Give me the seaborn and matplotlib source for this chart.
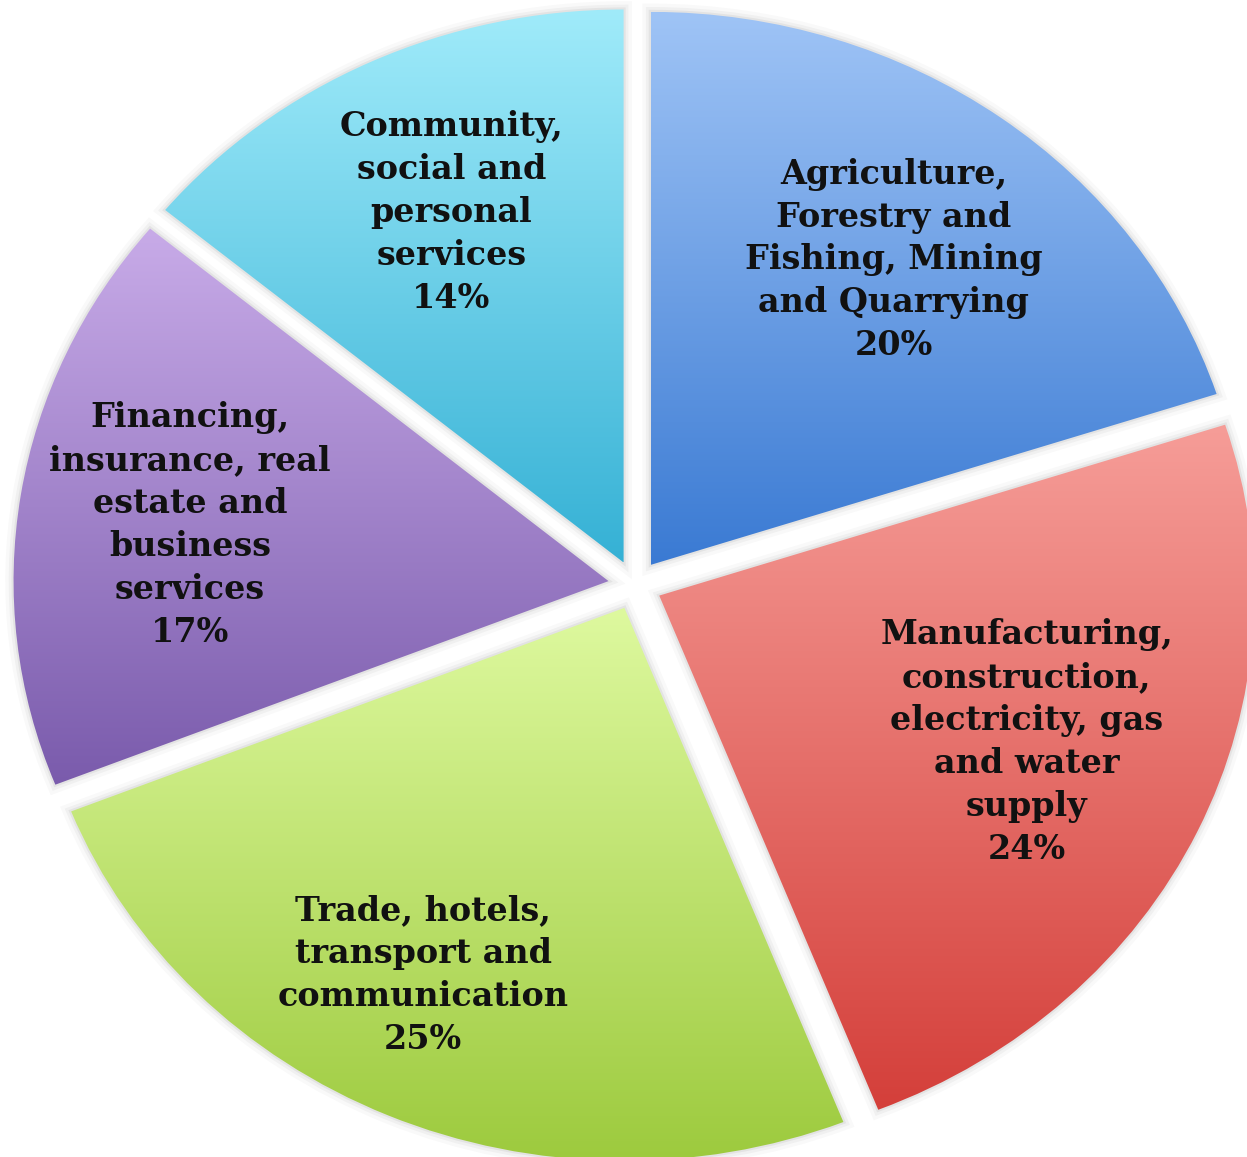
import numpy as np
import matplotlib
matplotlib.use("Agg")
import matplotlib.pyplot as plt
import seaborn as sns
from matplotlib.patches import Wedge

# Sector shares of output
sectors = [
    "Agriculture,\nForestry and\nFishing, Mining\nand Quarrying",
    "Manufacturing,\nconstruction,\nelectricity, gas\nand water\nsupply",
    "Trade, hotels,\ntransport and\ncommunication",
    "Financing,\ninsurance, real\nestate and\nbusiness\nservices",
    "Community,\nsocial and\npersonal\nservices",
]
shares = [20, 24, 25, 17, 14]

# Vertical gradient of each slice: light top, saturated bottom
top_colors = ["#9fc4f6", "#f69d98", "#def99f", "#c8abe8", "#a0ebfa"]
bottom_colors = ["#3a7ad3", "#d43f3a", "#9bc93b", "#7a5bac", "#35b1d5"]

# Label placement inside each slice (radial distance, angular nudge in degrees)
label_dist = [0.686, 0.672, 0.745, 0.711, 0.696]
label_nudge = [-0.5, 2.0, -3.6, 0.8, -0.6]

sns.set_theme(style="white")
plt.rcParams["font.family"] = ["DejaVu Serif"]

fig = plt.figure(figsize=(12.47, 11.57), dpi=100)
ax = fig.add_axes([0, 0, 1, 1])

wedges, _ = ax.pie(
    shares,
    startangle=90,
    counterclock=False,
    explode=[0.045] * len(shares),
    radius=1.0,
    colors=top_colors,
    wedgeprops=dict(linewidth=0),
)

grad = np.linspace(0, 1, 256).reshape(-1, 1)
for i, w in enumerate(wedges):
    w.set_facecolor("none")
    # soft drop shadow around the slice
    for lw, a in [(12, 0.025), (7, 0.035), (3, 0.05)]:
        ax.add_patch(Wedge(w.center, w.r, w.theta1, w.theta2, facecolor="none",
                           edgecolor=(0, 0, 0, a), linewidth=lw, zorder=1))
    verts = w.get_path().vertices
    x0, y0 = verts.min(axis=0)
    x1, y1 = verts.max(axis=0)
    cmap = sns.blend_palette([bottom_colors[i], top_colors[i]], n_colors=256, as_cmap=True)
    im = ax.imshow(grad, cmap=cmap, origin="lower", aspect="auto",
                   extent=(x0, x1, y0, y1), zorder=2, interpolation="bicubic")
    im.set_clip_path(w)

    thetam = np.deg2rad((w.theta1 + w.theta2) / 2 + label_nudge[i])
    cx, cy = w.center
    d = label_dist[i]
    ax.text(cx + d * np.cos(thetam), cy + d * np.sin(thetam),
            f"{sectors[i]}\n{shares[i]}%", ha="center", va="center",
            multialignment="center", fontsize=24, fontweight="bold",
            color="#111111", linespacing=1.38, zorder=3)

ax.set_aspect("auto")
ax.set_xlim(-635 / 595, 612 / 595)
ax.set_ylim(-572 / 553, 585 / 553)
ax.axis("off")

fig.savefig("out.png", dpi=100, facecolor="white")
